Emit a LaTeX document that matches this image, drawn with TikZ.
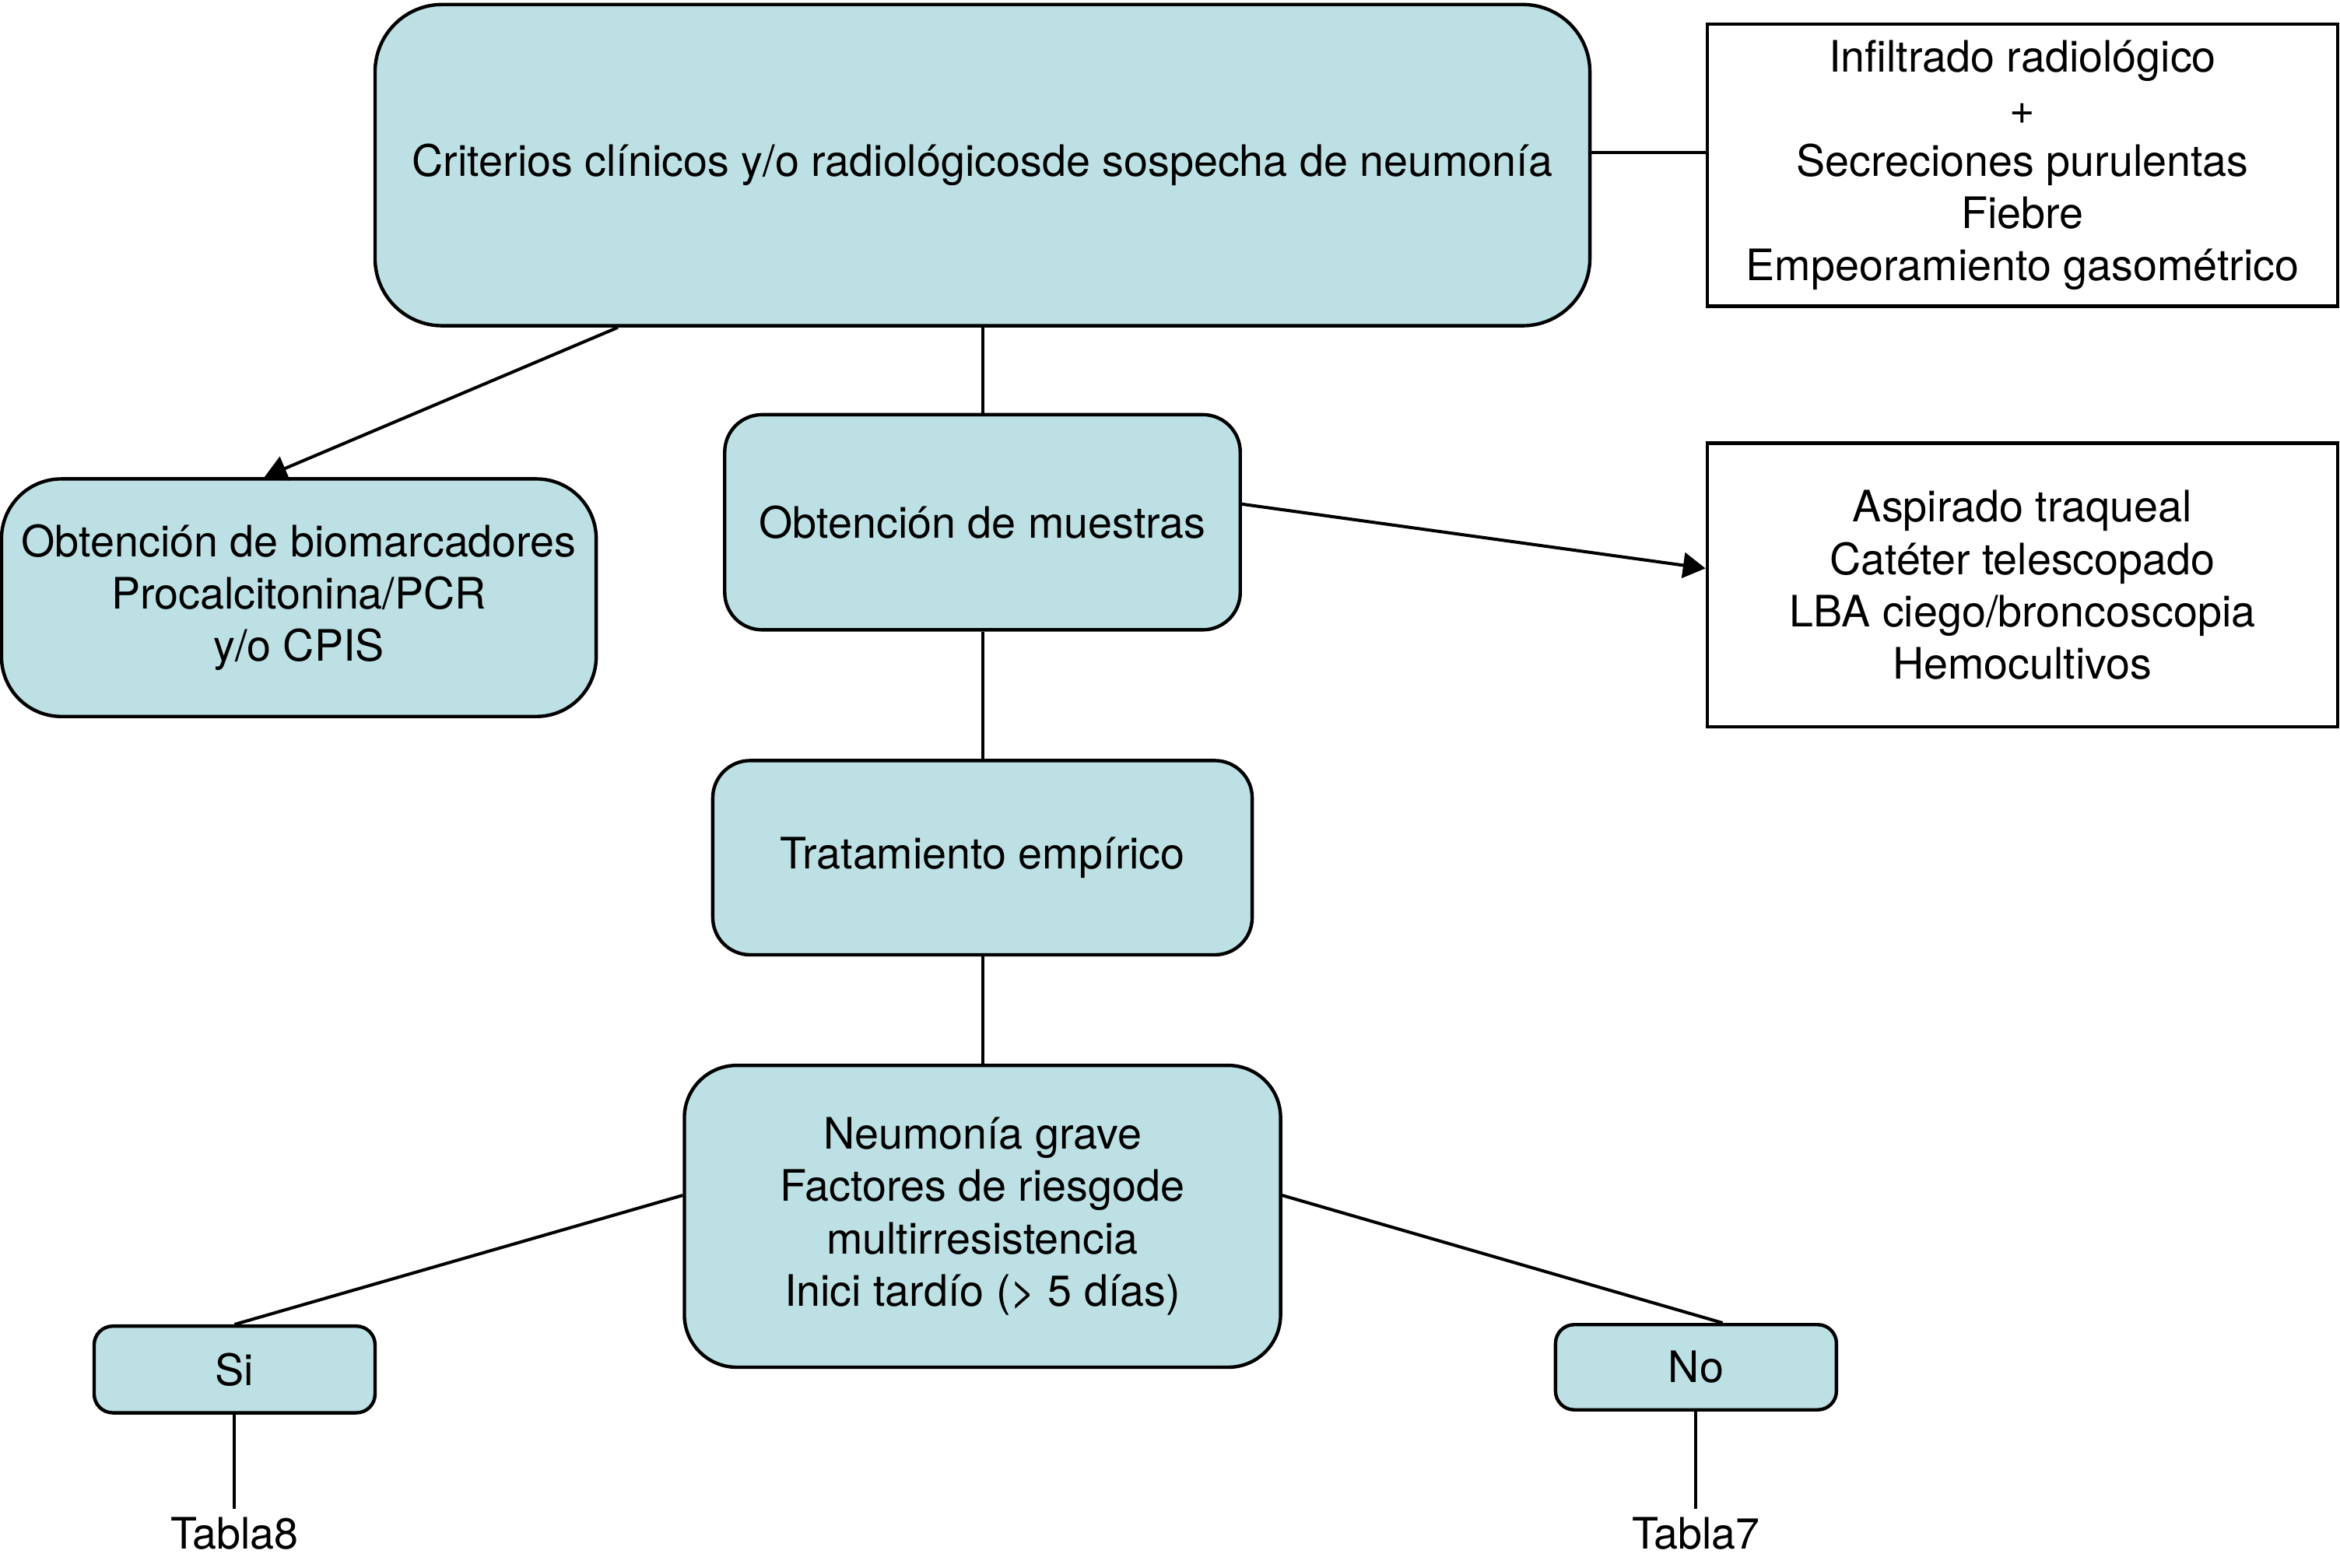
\documentclass[tikz,border=0pt]{standalone}
\usepackage{fontspec}
\setmainfont{TeX Gyre Heros}
\usetikzlibrary{arrows.meta}
\definecolor{boxcyan}{RGB}{188, 224, 227}

\begin{document}
\begin{tikzpicture}[
    paso/.style={draw, line width=1.3pt, fill=boxcyan, align=center, inner sep=0pt},
    nota/.style={draw, line width=1.3pt, fill=white, align=center, inner sep=0pt,
        minimum width=8.44cm},
    enlace/.style={line width=1.2pt},
    flecha/.style={line width=1.2pt, -{Triangle[length=0.3cm, width=0.34cm]}}
]
    \useasboundingbox (0,0) rectangle (31.32,-20.98);
    \fontsize{16.5}{19.9}\selectfont

    \node[paso, minimum width=16.26cm, minimum height=4.30cm, rounded corners=0.9cm]
        (criterios) at (13.15,-2.21) {Criterios clínicos y/o radiológicosde sospecha de neumonía};
    \node[nota, minimum height=3.78cm] (signos) at (27.07,-2.21)
        {Infiltrado radiológico\\+\\Secreciones purulentas\\Fiebre\\Empeoramiento gasométrico};

    \node[paso, minimum width=7.96cm, minimum height=3.18cm, rounded corners=0.8cm]
        (biomarcadores) at (4.00,-8.00) {Obtención de biomarcadores\\Procalcitonina/PCR\\y/o CPIS};
    \node[paso, minimum width=6.90cm, minimum height=2.88cm, rounded corners=0.5cm]
        (muestras) at (13.15,-6.99) {Obtención de muestras};
    \node[nota, minimum height=3.80cm] (tecnicas) at (27.07,-7.83)
        {Aspirado traqueal\\Catéter telescopado\\LBA ciego/broncoscopia\\Hemocultivos};

    \node[paso, minimum width=7.22cm, minimum height=2.60cm, rounded corners=0.5cm]
        (tratamiento) at (13.15,-11.48) {Tratamiento empírico};
    \node[paso, minimum width=7.98cm, minimum height=4.04cm, rounded corners=0.7cm]
        (grave) at (13.15,-16.28)
        {Neumonía grave\\Factores de riesgode\\multirresistencia\\Inici tardío (> 5 días)};

    \node[paso, minimum width=3.76cm, minimum height=1.16cm, rounded corners=0.25cm]
        (si) at (3.14,-18.33) {Si};
    \node[paso, minimum width=3.76cm, minimum height=1.14cm, rounded corners=0.25cm]
        (no) at (22.70,-18.30) {No};
    \node[inner sep=3pt] (tabla8) at (3.14,-20.52) {Tabla8};
    \node[inner sep=3pt] (tabla7) at (22.70,-20.52) {Tabla7};

    % conectores
    \draw[enlace] (criterios.east |- 0,-2.04) -- (signos.west |- 0,-2.04);
    \draw[flecha] (criterios.204) -- (biomarcadores.106);
    \draw[enlace] (criterios.south) -- (muestras.north);
    \draw[flecha] (muestras.4) -- (tecnicas.177.6);
    \draw[enlace] (muestras.south) -- (tratamiento.north);
    \draw[enlace] (tratamiento.south) -- (grave.north);
    \draw[enlace] (grave.176.8) -- (si.north);
    \draw[enlace] (grave.4.3) -- (no.59);
    \draw[enlace] (si.south) -- (tabla8.north);
    \draw[enlace] (no.south) -- (tabla7.north);
\end{tikzpicture}
\end{document}
